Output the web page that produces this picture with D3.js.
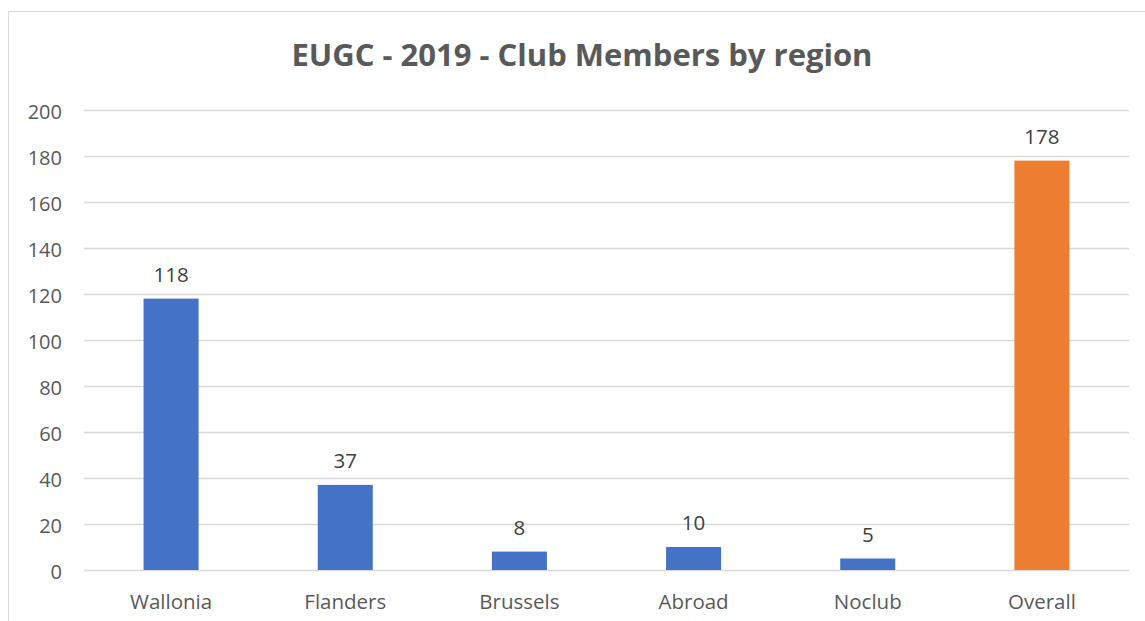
<!DOCTYPE html>
<html><head><meta charset="utf-8">
<script src="https://cdn.jsdelivr.net/npm/d3@7"></script>
<style>
body{margin:0;background:#fff;}
text{font-family:"Open Sans","Noto Sans",sans-serif;}
</style></head>
<body>
<svg id="c" width="1145" height="621"></svg>
<script>
const categories = ["Wallonia","Flanders","Brussels","Abroad","Noclub","Overall"];
const values = [118,37,8,10,5,178];
const barColors = ["#4472C4","#4472C4","#4472C4","#4472C4","#4472C4","#ED7D31"];
const yTicks = [0,20,40,60,80,100,120,140,160,180,200];
const title = "EUGC - 2019 - Club Members by region";

const svg = d3.select("#c");
// chart border
svg.append("rect").attr("x",8.5).attr("y",11.5).attr("width",1145).attr("height",620)
  .attr("fill","#fff").attr("stroke","#D9D9D9").attr("stroke-width",1);

const x = d3.scaleBand().domain(categories).range([84,1129]).paddingInner(0.684).paddingOuter(0.342);
const y = d3.scaleLinear().domain([0,200]).range([570,110]);

// gridlines
svg.append("g").selectAll("line").data(yTicks).join("line")
  .attr("x1",84).attr("x2",1129).attr("y1",d=>Math.round(y(d))+0.5).attr("y2",d=>Math.round(y(d))+0.5)
  .attr("stroke","#D9D9D9").attr("stroke-width",1.3);

// y axis labels
const yAxis = d3.axisLeft(y).tickValues(yTicks).tickSize(0).tickPadding(0);
const gy = svg.append("g").attr("transform","translate(62,0)").call(yAxis);
gy.select(".domain").remove();
gy.selectAll("text").attr("fill","#595959").style("font-size","20px").attr("dy","0.42em");

// x axis labels
const xAxis = d3.axisBottom(x).tickSize(0).tickPadding(0);
const gx = svg.append("g").attr("transform","translate(0,609)").call(xAxis);
gx.select(".domain").remove();
gx.selectAll("text").attr("fill","#595959").style("font-size","20.5px").attr("dy","0");

// bars
svg.append("g").selectAll("rect").data(values).join("rect")
  .attr("x",(d,i)=>x(categories[i])).attr("width",x.bandwidth())
  .attr("y",d=>y(d)).attr("height",d=>y(0)-y(d))
  .attr("fill",(d,i)=>barColors[i]);

// data labels
svg.append("g").selectAll("text").data(values).join("text")
  .attr("x",(d,i)=>x(categories[i])+x.bandwidth()/2).attr("y",d=>y(d)-17)
  .attr("text-anchor","middle").attr("fill","#404040").style("font-size","20.5px")
  .text(d=>d);

// title
svg.append("text").attr("x",582).attr("y",66).attr("text-anchor","middle")
  .attr("fill","#595959").style("font-size","31px").style("font-weight","bold")
  .text(title);
</script>
</body></html>
